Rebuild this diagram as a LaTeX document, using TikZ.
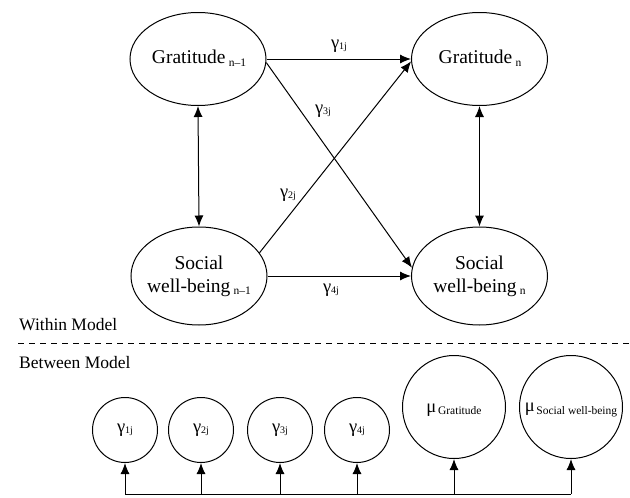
\documentclass[tikz,border=0pt]{standalone}
\usepackage{fontspec}
\setmainfont{Liberation Serif}
\usetikzlibrary{shapes.geometric,arrows.meta}
\newcommand{\lsub}[1]{\raisebox{-2.5pt}{\fontsize{11.5}{11.5}\selectfont #1}}
\newcommand{\gsub}[1]{\raisebox{-1.5pt}{\fontsize{10}{10}\selectfont #1}}
\newcommand{\gam}[1]{{\fontsize{18.5}{18.5}\selectfont γ}\gsub{#1}}
\newcommand{\muu}[1]{{\fontsize{18.5}{18.5}\selectfont μ}\,\lsub{#1}}
\begin{document}
\begin{tikzpicture}[x=1pt,y=-1pt,
  ell/.style={ellipse,draw,line width=1pt,minimum width=136pt,inner sep=0pt},
  txt/.style={align=center,inner sep=0pt,font=\fontsize{19.5}{23}\selectfont},
  circ/.style={circle,draw,line width=1pt,minimum size=65pt,inner sep=0pt},
  bigc/.style={circle,draw,line width=1pt,minimum size=103pt,inner sep=0pt},
  arr/.style={-{Latex[length=11pt,width=9pt]},line width=1pt},
  darr/.style={{Latex[length=11pt,width=9pt]}-{Latex[length=11pt,width=9pt]},line width=1pt},
  ln/.style={line width=1pt},
  sec/.style={anchor=west,inner sep=0pt,font=\fontsize{17.5}{20}\selectfont},
  lab/.style={inner sep=1pt}
]
\useasboundingbox (0,0) rectangle (630,498);

% within model
\node[ell,minimum height=93pt] (g1) at (198,59) {};
\node[ell,minimum height=93pt] (g2) at (479.5,59) {};
\node[ell,minimum height=98pt] (s1) at (199,276) {};
\node[ell,minimum height=98pt] (s2) at (479.5,276) {};
\node[txt] (g1t) at (199,58) {Gratitude\,\lsub{n–1}};
\node[txt] (g2t) at (480,58) {Gratitude\,\lsub{n}};
\node[txt] (s1t) at (s1) {Social\\well-being\,\lsub{n–1}};
\node[txt] (s2t) at (s2) {Social\\well-being\,\lsub{n}};

\draw[arr] (g1.east) -- (g2.west);
\draw[arr] (s1.east) -- (s2.west);
\draw[arr] (g1.-3) -- (s2.173);
\draw[arr] (s1.21) -- (g2.182);
\draw[darr] (g1.south) -- (s1.north);
\draw[darr] (g2.south) -- (s2.north);

\node[lab] (l1) at (339,46) {\gam{1j}};
\node[lab] (l3) at (323,111) {\gam{3j}};
\node[lab] (l2) at (288,195) {\gam{2j}};
\node[lab] (l4) at (331,290) {\gam{4j}};

% separator
\node[sec] (wm) at (19,325) {Within Model};
\coordinate (dl) at (18,343);
\coordinate (dr) at (630,343);
\draw[ln,dash pattern=on 6pt off 5pt] (dl) -- (dr);
\node[sec] (bm) at (19,363) {Between Model};

% between model
\node[circ] (c1) at (125,430) {};
\node[circ] (c2) at (201,430) {};
\node[circ] (c3) at (280,430) {};
\node[circ] (c4) at (357,430) {};
\node[bigc] (m1) at (454,407) {};
\node[bigc] (m2) at (571,407) {};
\node[lab] (c1t) at (c1) {\gam{1j}};
\node[lab] (c2t) at (c2) {\gam{2j}};
\node[lab] (c3t) at (c3) {\gam{3j}};
\node[lab] (c4t) at (c4) {\gam{4j}};
\node[inner sep=0pt] (m1t) at (454,410) {\muu{Gratitude}};
\node[inner sep=0pt] (m2t) at (571,410) {\muu{Social well-being}};

\coordinate (base) at (0,494);
\draw[ln] (c1 |- base) -- (m2 |- base);
\foreach \n in {c1,c2,c3,c4,m1,m2}
  \draw[arr] (\n |- base) -- (\n.south);
\end{tikzpicture}
\end{document}
